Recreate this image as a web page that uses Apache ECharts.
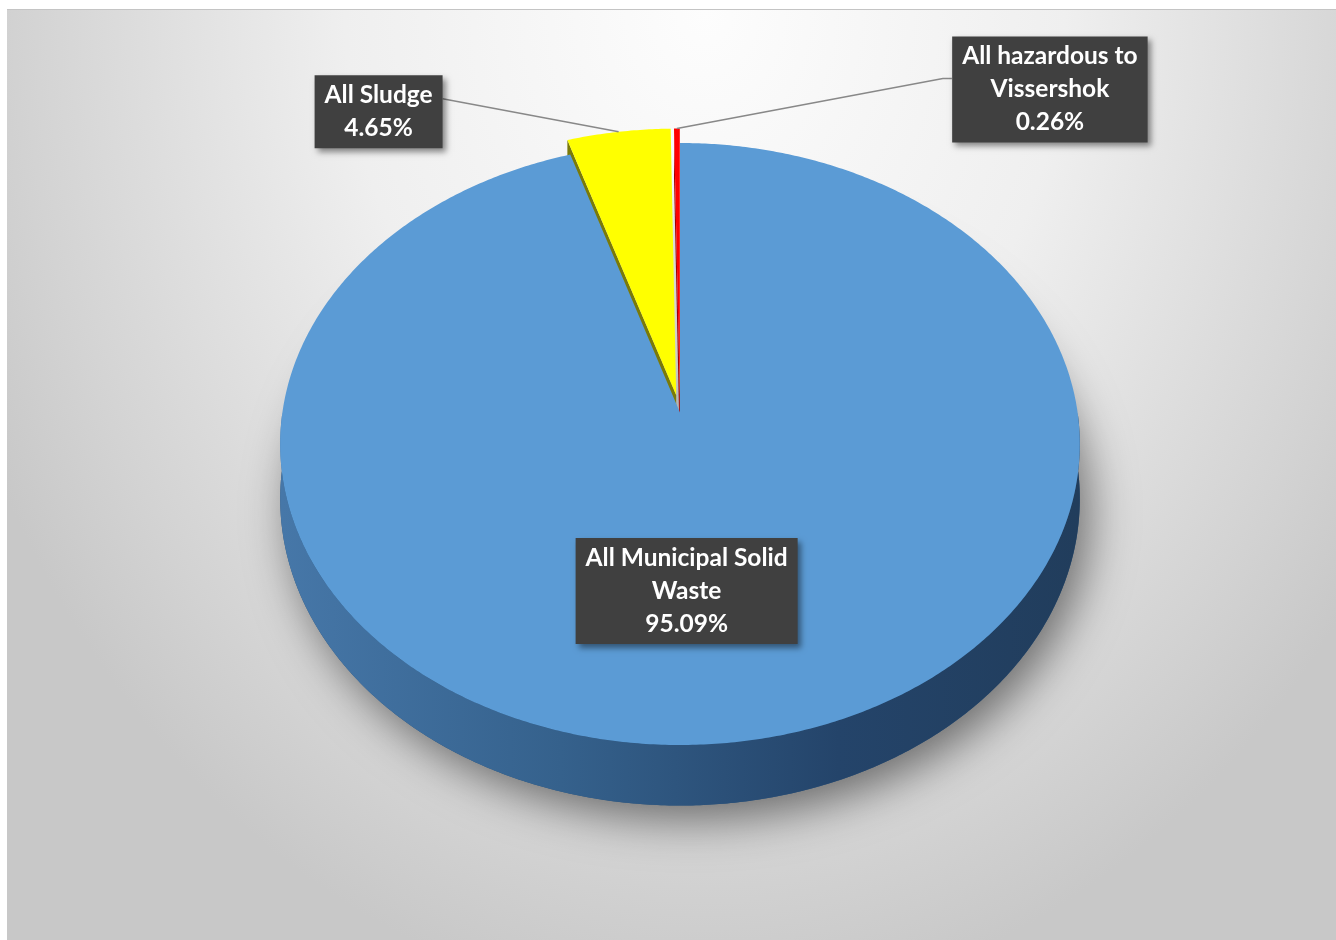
<!DOCTYPE html>
<html><head><meta charset="utf-8">
<script src="https://cdn.jsdelivr.net/npm/echarts@6/dist/echarts.min.js"></script>
<style>
html,body{margin:0;padding:0;background:#fff;width:1336px;height:940px;overflow:hidden}
#bg{position:absolute;left:7px;top:9px;width:1329px;height:931px;border-top:1px solid #c4c4c4;box-sizing:border-box;
background:radial-gradient(ellipse 800px 1000px at 698px 0px,#fdfdfd 0%,#efefef 45%,#d3d3d3 85%,#c8c8c8 100%);}
#chart{position:absolute;left:0;top:0;width:1336px;height:940px}
</style></head><body><div id="bg"></div><div id="chart"></div>
<script>
// ---- data ----
const categories = ['All Municipal Solid Waste', 'All Sludge', 'All hazardous to Vissershok'];
const values = [95.09, 4.65, 0.26];
const labelNames = ['All Municipal Solid\nWaste', 'All Sludge', 'All hazardous to\nVissershok'];

// ---- style / layout ----
const topColors = ['#5b9bd5', '#ffff00', '#ff0000'];
const sideColors = ['#2c5379', '#7a7a08', '#a00000'];
const explodeBy = [0, 0.06, 0.06];
const PERSP = -0.105, DEPTH = 0.18, XK = 0.994;
const labelInside = [true, false, false];
const labelShift = [[-29, 7], [-240, -20], [373, -39]];
const leaderPath = [null, [[-176, -33]], [[266, -50], [275, -50]]];

const total = values.reduce((a, b) => a + b, 0);
const starts = [], ends = [];
let acc = 0;
values.forEach(v => { starts.push(acc / total * 2 * Math.PI); acc += v; ends.push(acc / total * 2 * Math.PI); });

function makeProj(api, i) {
  const m = (starts[i] + ends[i]) / 2, e = explodeBy[i];
  const du = e * Math.sin(m), dv = -e * Math.cos(m);
  return function (u, v, z) {
    u += du; v += dv;
    const w = 1 + PERSP * v;
    return api.coord([XK * u / w, (v + PERSP + z) / w]);
  };
}
function arcPts(P, a1, a2, r, z) {
  const n = Math.max(2, Math.ceil((a2 - a1) / (Math.PI / 360)) + 1);
  const pts = [];
  for (let k = 0; k < n; k++) {
    const t = a1 + (a2 - a1) * k / (n - 1);
    pts.push(P(r * Math.sin(t), -r * Math.cos(t), z));
  }
  return pts;
}

function renderSide(params, api) {
  const i = params.dataIndex, P = makeProj(api, i);
  const a1 = starts[i], a2 = ends[i];
  const children = [];
  if (i === 0) {
    const bottom = [P(0, 0, DEPTH)].concat(arcPts(P, a1, a2, 1, DEPTH));
    children.push({ type: 'polygon', shape: { points: bottom },
      style: { fill: '#2c5379', shadowColor: 'rgba(0,0,0,0.5)', shadowBlur: 45, shadowOffsetX: 10, shadowOffsetY: 14 } });
  }
  let fill = sideColors[i];
  if (i === 0) {
    const xl = P(-1, 0, 0)[0], xr = P(1, 0, 0)[0];
    fill = { type: 'linear', global: true, x: xl, y: 0, x2: xr, y2: 0,
      colorStops: [{ offset: 0, color: '#4677a8' }, { offset: 0.35, color: '#35618c' }, { offset: 0.7, color: '#24446a' }, { offset: 1, color: '#213d5c' }] };
  }
  const lo = Math.max(a1, Math.PI / 2), hi = Math.min(a2, 3 * Math.PI / 2);
  if (hi > lo) {
    const pts = arcPts(P, lo, hi, 1, 0).concat(arcPts(P, lo, hi, 1, DEPTH).reverse());
    children.push({ type: 'polygon', shape: { points: pts }, style: { fill: fill } });
  }
  if (values.length > 1) {
    if (Math.sin(a1) < -1e-6) {
      children.push({ type: 'polygon', shape: { points: [P(0, 0, 0), P(Math.sin(a1), -Math.cos(a1), 0), P(Math.sin(a1), -Math.cos(a1), DEPTH), P(0, 0, DEPTH)] },
        style: { fill: sideColors[i] } });
    }
    if (Math.sin(a2) > 1e-6) {
      children.push({ type: 'polygon', shape: { points: [P(0, 0, 0), P(Math.sin(a2), -Math.cos(a2), 0), P(Math.sin(a2), -Math.cos(a2), DEPTH), P(0, 0, DEPTH)] },
        style: { fill: sideColors[i] } });
    }
  }
  return { type: 'group', children: children };
}

function renderTop(params, api) {
  const i = params.dataIndex, P = makeProj(api, i);
  const pts = [P(0, 0, 0)].concat(arcPts(P, starts[i], ends[i], 1, 0));
  return { type: 'polygon', shape: { points: pts }, style: { fill: topColors[i] } };
}

function renderLabel(params, api) {
  const i = params.dataIndex, P = makeProj(api, i);
  const m = (starts[i] + ends[i]) / 2;
  const r = labelInside[i] ? 0.55 : 1;
  const anchor = P(r * Math.sin(m), -r * Math.cos(m), 0);
  const pct = (api.value(1) / total * 100).toFixed(2) + '%';
  const children = [];
  if (leaderPath[i]) {
    const pts = [anchor].concat(leaderPath[i].map(d => [anchor[0] + d[0], anchor[1] + d[1]]));
    children.push({ type: 'polyline', shape: { points: pts }, style: { stroke: '#888888', lineWidth: 1.5, fill: null } });
  }
  children.push({ type: 'text', x: anchor[0] + labelShift[i][0], y: anchor[1] + labelShift[i][1],
    style: { text: labelNames[i] + '\n' + pct, fill: '#ffffff', fontFamily: 'Lato', fontWeight: 'bold', fontSize: 24.5,
      lineHeight: 33, align: 'center', verticalAlign: 'middle', backgroundColor: '#404040', padding: [4, 10, 3, 10],
      shadowColor: 'rgba(0,0,0,0.45)', shadowBlur: 6, shadowOffsetX: 3, shadowOffsetY: 4 } });
  return { type: 'group', children: children };
}

const seriesData = values.map((v, i) => [i, v]);
const chart = echarts.init(document.getElementById('chart'), null, { renderer: 'canvas' });
chart.setOption({
  animation: false,
  backgroundColor: 'transparent',
  grid: { left: 280, top: 143, width: 800, height: 602 },
  xAxis: { type: 'value', min: -1, max: 1, show: false },
  yAxis: { type: 'value', min: -1, max: 1, inverse: true, show: false },
  tooltip: { show: false },
  series: [
    { type: 'custom', name: 'side', renderItem: renderSide, data: seriesData, clip: false, silent: true },
    { type: 'custom', name: 'top', renderItem: renderTop, data: seriesData, clip: false, silent: true },
    { type: 'custom', name: 'labels', renderItem: renderLabel, data: seriesData, clip: false, silent: true }
  ]
});
</script></body></html>
